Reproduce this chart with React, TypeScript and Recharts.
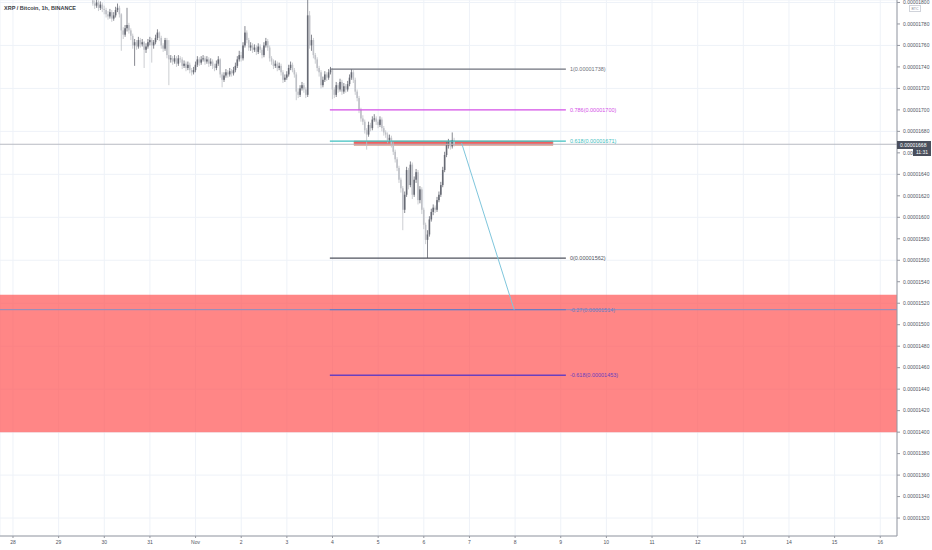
import React from "react";
import {
  ComposedChart,
  Bar,
  XAxis,
  YAxis,
  CartesianGrid,
  ReferenceLine,
  ReferenceArea,
} from "recharts";

// prices in satoshi (1e-8 BTC), hours counted from Oct 28 00:00
const START_HOUR = 42;
const FIRST_OPEN = 1802;

const closes = [
  1799, 1797, 1800, 1795, 1798, 1794,
  1793, 1789, 1787, 1791, 1785, 1788, 1793, 1795, 1789, 1774, 1770, 1776, 1779, 1774, 1769, 1760, 1763, 1759, 1765, 1761, 1763, 1756, 1759, 1763,
  1765, 1760, 1763, 1767, 1772, 1767, 1760, 1757, 1765, 1751, 1747, 1748, 1745, 1748, 1743, 1748, 1747, 1741, 1743, 1739, 1742, 1737, 1735, 1737,
  1742, 1747, 1744, 1747, 1748, 1745, 1747, 1743, 1745, 1741, 1739, 1743, 1747, 1733, 1728, 1732, 1735, 1733, 1736, 1734, 1737, 1741, 1747, 1751,
  1748, 1760, 1772, 1765, 1758, 1760, 1756, 1758, 1754, 1759, 1756, 1751, 1760, 1764, 1758, 1748, 1745, 1741, 1743, 1739, 1741, 1735, 1728, 1730,
  1733, 1739, 1742, 1737, 1733, 1717, 1714, 1720, 1723, 1719, 1714, 1788, 1760, 1765, 1751, 1747, 1739, 1735, 1723, 1728, 1733, 1730, 1735, 1737,
  1719, 1714, 1723, 1719, 1726, 1717, 1722, 1719, 1724, 1730, 1735, 1728, 1717, 1711, 1700, 1692, 1689, 1681, 1677, 1686, 1683, 1691, 1692, 1689,
  1686, 1691, 1683, 1679, 1677, 1672, 1674, 1668, 1661, 1654, 1646, 1635, 1627, 1607, 1621, 1644, 1630, 1649, 1621, 1635, 1642, 1616, 1626, 1607,
  1593, 1579, 1584, 1598, 1605, 1609, 1607, 1616, 1621, 1630, 1644, 1658, 1667, 1670, 1666, 1672, 1668,
];

const highs = [
  1806, 1802, 1804, 1802, 1801, 1800,
  1797, 1795, 1792, 1794, 1793, 1791, 1796, 1799, 1797, 1790, 1777, 1779, 1795, 1781, 1776, 1771, 1766, 1765, 1768, 1767, 1766, 1764, 1762, 1766,
  1768, 1767, 1765, 1770, 1775, 1773, 1769, 1762, 1767, 1767, 1765, 1751, 1750, 1751, 1750, 1751, 1750, 1749, 1746, 1745, 1745, 1744, 1739, 1740,
  1745, 1750, 1749, 1750, 1751, 1750, 1750, 1749, 1748, 1747, 1743, 1746, 1750, 1748, 1735, 1735, 1738, 1737, 1739, 1738, 1740, 1744, 1750, 1755,
  1754, 1763, 1778, 1774, 1767, 1763, 1762, 1761, 1760, 1762, 1761, 1758, 1763, 1767, 1766, 1760, 1750, 1747, 1746, 1745, 1744, 1743, 1737, 1733,
  1736, 1742, 1745, 1744, 1739, 1735, 1720, 1723, 1726, 1725, 1721, 1810, 1792, 1770, 1767, 1753, 1749, 1741, 1737, 1731, 1736, 1735, 1738, 1740,
  1739, 1721, 1726, 1725, 1729, 1728, 1725, 1724, 1727, 1733, 1738, 1737, 1730, 1719, 1713, 1702, 1695, 1691, 1683, 1689, 1688, 1694, 1696, 1694,
  1691, 1694, 1693, 1685, 1681, 1679, 1677, 1676, 1670, 1663, 1656, 1648, 1637, 1629, 1624, 1647, 1646, 1652, 1651, 1638, 1645, 1644, 1629, 1628,
  1609, 1595, 1588, 1601, 1608, 1612, 1611, 1619, 1624, 1633, 1647, 1661, 1670, 1673, 1672, 1679, 1674,
];

const lows = [
  1797, 1794, 1795, 1792, 1793, 1791,
  1789, 1786, 1784, 1785, 1782, 1783, 1786, 1791, 1786, 1755, 1766, 1768, 1773, 1771, 1765, 1757, 1741, 1756, 1757, 1758, 1759, 1739, 1753, 1757,
  1760, 1744, 1757, 1761, 1765, 1764, 1757, 1754, 1755, 1748, 1723, 1744, 1742, 1743, 1740, 1741, 1744, 1738, 1739, 1736, 1737, 1734, 1732, 1733,
  1735, 1740, 1741, 1742, 1745, 1742, 1743, 1740, 1741, 1738, 1736, 1737, 1741, 1730, 1721, 1726, 1730, 1730, 1731, 1731, 1732, 1735, 1739, 1745,
  1745, 1746, 1758, 1762, 1755, 1755, 1753, 1754, 1751, 1752, 1753, 1748, 1749, 1758, 1755, 1745, 1742, 1738, 1739, 1736, 1737, 1732, 1725, 1726,
  1728, 1731, 1737, 1735, 1730, 1709, 1711, 1712, 1718, 1716, 1711, 1712, 1757, 1755, 1748, 1743, 1736, 1731, 1720, 1721, 1726, 1727, 1728, 1733,
  1710, 1711, 1712, 1716, 1717, 1714, 1715, 1716, 1717, 1722, 1728, 1725, 1714, 1708, 1697, 1689, 1686, 1678, 1663, 1675, 1680, 1681, 1689, 1686,
  1683, 1684, 1680, 1676, 1674, 1669, 1670, 1665, 1658, 1651, 1643, 1632, 1623, 1588, 1604, 1619, 1626, 1628, 1617, 1619, 1632, 1612, 1613, 1603,
  1589, 1575, 1562, 1582, 1596, 1602, 1604, 1605, 1614, 1619, 1628, 1642, 1656, 1664, 1663, 1664, 1666,
];

const dayTicks = [0, 24, 48, 72, 96, 120, 144, 168, 192, 216, 240, 264, 288, 312, 336, 360, 384, 408, 432, 456];
const dayLabels = ["28", "29", "30", "31", "Nov", "2", "3", "4", "5", "6", "7", "8", "9", "10", "11", "12", "13", "14", "15", "16"];
const priceTicks = [
  1320, 1340, 1360, 1380, 1400, 1420, 1440, 1460, 1480, 1500, 1520, 1540, 1560,
  1580, 1600, 1620, 1640, 1660, 1680, 1700, 1720, 1740, 1760, 1780, 1800,
];

// fibonacci extension drawing
const fibRatios = ["1", "0.786", "0.618", "0", "-0.27", "-0.618"];
const fibPrices = [1738, 1700, 1671, 1562, 1514, 1453];
const fibColors = ["#6f727c", "#d34fe6", "#3fc0c0", "#4f525c", "#6f7cc0", "#6a3fbf"];
const fibStartHour = 166.6;
const fibEndHour = 290.7;

const zoneTop = 1528;
const zoneBottom = 1400;
const boxStartHour = 179.3;
const boxEndHour = 283.9;
const boxTop = 1671;
const boxBottom = 1667;
const projection = [
  { hour: 235.9, price: 1669 },
  { hour: 263.5, price: 1514 },
];
const lastPrice = 1668;

const candles = closes.map((c, i) => ({
  hour: START_HOUR + i,
  open: i === 0 ? FIRST_OPEN : closes[i - 1],
  close: c,
  high: highs[i],
  low: lows[i],
}));

const fmt = (v: number) => "0." + String(v).padStart(8, "0");
const FONT = "'Liberation Sans', Arial, sans-serif";

function Candle(props: any) {
  const { x, y, width, height, payload } = props;
  if (x == null || y == null) return null;
  const top = Math.min(y, y + height);
  const h = Math.abs(height);
  const { open, close, high, low } = payload;
  const py = (p: number) => top + ((high - p) / (high - low || 1)) * h;
  const cx = x + width / 2;
  const up = close >= open;
  const color = up ? "#676a74" : "#bfc1c7";
  const bTop = py(Math.max(open, close));
  const bBot = py(Math.min(open, close));
  return (
    <g>
      <line x1={cx} x2={cx} y1={top} y2={top + h} stroke={color} strokeWidth={0.8} />
      <rect x={cx - 0.8} y={bTop} width={1.6} height={Math.max(0.8, bBot - bTop)} fill={color} />
    </g>
  );
}

export default function App() {
  return (
    <div style={{ position: "absolute", left: 0, top: 0, width: 932, height: 550, background: "#fff", fontFamily: FONT }}>
      <ComposedChart
        width={932}
        height={550}
        data={candles}
        margin={{ top: 0, right: 0, left: 0, bottom: 0 }}
      >
        <CartesianGrid stroke="#eef2f8" strokeWidth={1} />
        <XAxis
          dataKey="hour"
          type="number"
          domain={[-6.83, 464.8]}
          allowDataOverflow
          ticks={dayTicks}
          tickFormatter={(v: number) => dayLabels[dayTicks.indexOf(v)] ?? ""}
          height={14}
          stroke="#9598a1"
          tickSize={2}
          tickMargin={2}
          tick={{ fontSize: 5, fill: "#50535e", fontFamily: FONT }}
        />
        <YAxis
          orientation="right"
          type="number"
          domain={[1303.3, 1802.3]}
          allowDataOverflow
          ticks={priceTicks}
          tickFormatter={fmt}
          width={35}
          stroke="#9598a1"
          tickSize={3}
          tickMargin={3}
          tick={{ fontSize: 5, fill: "#50535e", fontFamily: FONT, textAnchor: "start" }}
        />
        <ReferenceArea y1={zoneBottom} y2={zoneTop} fill="#ff5252" fillOpacity={0.7} stroke="none" />
        <ReferenceLine y={lastPrice} stroke="#b8bbc2" strokeWidth={1} />
        <ReferenceLine y={fibPrices[4]} stroke="#8590c4" strokeWidth={1} />
        {fibPrices.map((p, i) => (
          <ReferenceLine
            key={fibRatios[i]}
            segment={[
              { x: fibStartHour, y: p },
              { x: fibEndHour, y: p },
            ]}
            stroke={fibColors[i]}
            strokeWidth={i === 5 ? 1.5 : 1.2}
            label={{
              value: `${fibRatios[i]}(${fmt(p)})`,
              position: "right",
              offset: 4,
              fill: fibColors[i],
              fontSize: 5.5,
              fontFamily: FONT,
            }}
          />
        ))}
        <ReferenceArea
          x1={boxStartHour}
          x2={boxEndHour}
          y1={boxBottom}
          y2={boxTop}
          fill="#f06060"
          fillOpacity={1}
          stroke="#c9907a"
          strokeWidth={0.6}
        />
        <Bar
          dataKey={(d: any) => [d.low, d.high]}
          shape={<Candle />}
          barSize={2}
          isAnimationActive={false}
        />
        <ReferenceLine
          segment={[
            { x: projection[0].hour, y: projection[0].price },
            { x: projection[1].hour, y: projection[1].price },
          ]}
          stroke="#7fc6dc"
          strokeWidth={1}
        />
      </ComposedChart>

      <div style={{ position: "absolute", left: 4, top: 5, fontSize: 5.5, fontWeight: 600, color: "#3a3d46" }}>
        XRP / Bitcoin, 1h, BINANCE
      </div>
      <div
        style={{
          position: "absolute",
          left: 909,
          top: 5,
          width: 12,
          height: 7,
          border: "0.5px solid #d0d3da",
          fontSize: 3.5,
          lineHeight: "7px",
          textAlign: "center",
          color: "#8a8d96",
          background: "#fff",
          boxSizing: "border-box",
        }}
      >
        BTC
      </div>
      <div
        style={{
          position: "absolute",
          left: 897,
          top: 140.5,
          width: 34,
          height: 8,
          background: "#4a4f5c",
          color: "#fff",
          fontSize: 5,
          lineHeight: "8px",
          paddingLeft: 3,
          boxSizing: "border-box",
        }}
      >
        {fmt(lastPrice)}
      </div>
      <div
        style={{
          position: "absolute",
          left: 913,
          top: 148.5,
          width: 18,
          height: 7,
          background: "#4a4f5c",
          color: "#fff",
          fontSize: 5,
          lineHeight: "7px",
          textAlign: "center",
        }}
      >
        11:31
      </div>
    </div>
  );
}
